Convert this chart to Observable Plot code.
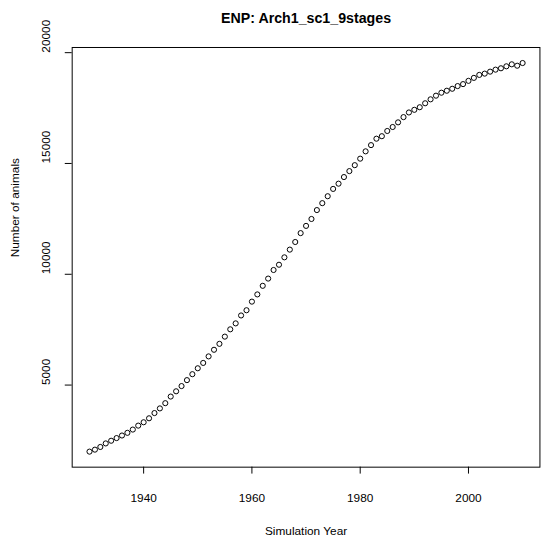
<!DOCTYPE html>
<html>
<head>
<meta charset="utf-8">
<script src="https://cdn.jsdelivr.net/npm/d3@7"></script>
<script src="https://cdn.jsdelivr.net/npm/@observablehq/plot@0.6"></script>
<style>
  html, body { margin: 0; padding: 0; background: #fff; overflow: hidden; }
  #chart svg { display: block; }
</style>
</head>
<body>
<div id="chart"></div>
<script>
const title = "ENP: Arch1_sc1_9stages";
const xLabel = "Simulation Year";
const yLabel = "Number of animals";
const xTicks = [1940, 1960, 1980, 2000];
const yTicks = [5000, 10000, 15000, 20000];

const years = d3.range(1930, 2011);
const animals = [
  1997, 2086, 2207, 2367, 2488, 2608, 2724, 2845, 2992, 3170,
  3322, 3501, 3737, 3947, 4183, 4482, 4719, 4955, 5223, 5491,
  5758, 5999, 6294, 6593, 6860, 7186, 7516, 7784, 8141, 8377,
  8765, 9091, 9479, 9805, 10193, 10430, 10764, 11112, 11456, 11857,
  12183, 12495, 12897, 13209, 13522, 13852, 14088, 14387, 14655, 14923,
  15217, 15547, 15828, 16118, 16230, 16466, 16645, 16855, 17091, 17301,
  17421, 17537, 17716, 17894, 18059, 18193, 18282, 18371, 18492, 18581,
  18728, 18862, 18996, 19054, 19143, 19233, 19295, 19384, 19474, 19411,
  19532
];

const data = years.map((y, i) => ({year: y, n: animals[i]}));

const xExt = d3.extent(years), yExt = d3.extent(animals);
const xPad = (xExt[1] - xExt[0]) * 0.04, yPad = (yExt[1] - yExt[0]) * 0.04;

const font = "'Liberation Sans', Arial, Helvetica, sans-serif";

const chart = Plot.plot({
  width: 550,
  height: 544,
  marginLeft: 72.6,
  marginRight: 3.6,
  marginTop: 47.6,
  marginBottom: 71.3,
  style: {fontFamily: font, fontSize: "12px", color: "#000", background: "#fff"},
  x: {domain: [xExt[0] - xPad, xExt[1] + xPad]},
  y: {domain: [yExt[0] - yPad, yExt[1] + yPad]},
  marks: [
    Plot.frame({stroke: "#000", strokeWidth: 1}),
    Plot.axisX({ticks: xTicks, tickSize: 7, tickPadding: 20, fontSize: 12, label: null, tickFormat: d => String(d)}),
    Plot.axisY({ticks: yTicks, tickSize: 7, tickFormat: () => "", label: null}),
    Plot.text(yTicks, {y: d => d, text: d => String(d), frameAnchor: "left", dx: -26, rotate: -90, fontSize: 12, fill: "#000"}),
    Plot.dot(data, {x: "year", y: "n", r: 2.6, stroke: "#000", strokeWidth: 1, fill: "none"}),
    Plot.text([yLabel], {frameAnchor: "left", dx: -57.5, rotate: -90, fontSize: 12, fill: "#000"}),
    Plot.text([xLabel], {frameAnchor: "bottom", dy: 68.5, fontSize: 12, fill: "#000"}),
    Plot.text([title], {frameAnchor: "top", dy: -35, fontSize: 14.4, fontWeight: "bold", fill: "#000"})
  ]
});
document.getElementById("chart").appendChild(chart);
</script>
</body>
</html>
